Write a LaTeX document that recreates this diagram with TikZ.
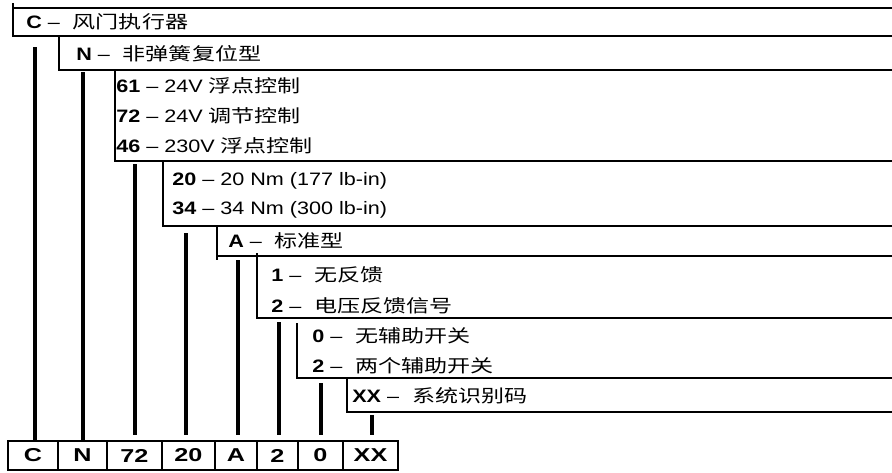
\documentclass[tikz,border=0pt]{standalone}
\usepackage{fontspec}
\setmainfont{Liberation Sans}[FakeStretch=1.2]
\newfontfamily\cjk{Noto Sans CJK SC}[FakeStretch=1.3]
\newfontfamily\cellfont{Liberation Sans}[FakeStretch=1.35]
\newcommand{\zh}[1]{{\cjk\fontsize{13.3}{16}\selectfont #1}}

\newlength{\du}
\setlength{\du}{0.75pt}

\tikzset{
  optframe/.style={line width=2\du},
  codeline/.style={line width=3.2\du},
  optlabel/.style={anchor=west, inner sep=0pt, font=\fontsize{13.5}{16}\selectfont},
  codecell/.style={draw, line width=2.5\du, minimum height=29\du, inner sep=0pt,
    font=\cellfont\fontsize{14}{16}\selectfont\bfseries},
}

\begin{document}
\begin{tikzpicture}
\pgftransformxscale{1.000000}
\pgftransformyscale{-1.000000}
\definecolor{dialinecolor}{rgb}{0.000000, 0.000000, 0.000000}
\pgfsetstrokecolor{dialinecolor}
\useasboundingbox (0\du,0\du) rectangle (892\du,472\du);
% option frames
\draw[line width=2.5\du] (13\du,8\du)--(892\du,8\du);
\draw[optframe] (13\du,3\du)--(13\du,36\du)--(892\du,36\du);
\draw[optframe] (59\du,37\du)--(59\du,70\du)--(892\du,70\du);
\draw[optframe] (115\du,70\du)--(115\du,161\du)--(892\du,161\du);
\draw[optframe] (163\du,161\du)--(163\du,226\du)--(892\du,226\du);
\draw[optframe] (217\du,226\du)--(217\du,260\du);
\draw[optframe] (217\du,256\du)--(892\du,256\du);
\draw[optframe] (257\du,253\du)--(257\du,318\du)--(892\du,318\du);
\draw[optframe] (297\du,323\du)--(297\du,378\du)--(892\du,378\du);
\draw[optframe] (347\du,378\du)--(347\du,412\du)--(892\du,412\du);
% option texts
\node[optlabel] (typeC) at (26\du,22\du){\textbf{C} --\hspace{13\du}\zh{风门执行器}};
\node[optlabel] (typeN) at (76\du,54\du){\textbf{N} --\hspace{13\du}\zh{非弹簧复位型}};
\node[optlabel] (volt61) at (116\du,86\du){\textbf{61} -- 24V \zh{浮点控制}};
\node[optlabel] (volt72) at (116\du,116\du){\textbf{72} -- 24V \zh{调节控制}};
\node[optlabel] (volt46) at (116\du,146\du){\textbf{46} -- 230V \zh{浮点控制}};
\node[optlabel] (torq20) at (172\du,181\du){\textbf{20} -- 20 Nm (177 lb-in)};
\node[optlabel] (torq34) at (172\du,210\du){\textbf{34} -- 34 Nm (300 lb-in)};
\node[optlabel] (modA) at (228\du,241\du){\textbf{A} --\hspace{13\du}\zh{标准型}};
\node[optlabel] (fb1) at (271\du,275\du){\textbf{1} --\hspace{13\du}\zh{无反馈}};
\node[optlabel] (fb2) at (271\du,306\du){\textbf{2} --\hspace{13\du}\zh{电压反馈信号}};
\node[optlabel] (aux0) at (312\du,336\du){\textbf{0} --\hspace{13\du}\zh{无辅助开关}};
\node[optlabel] (aux2) at (312\du,366\du){\textbf{2} --\hspace{13\du}\zh{两个辅助开关}};
\node[optlabel] (sysXX) at (352\du,396\du){\textbf{XX} --\hspace{13\du}\zh{系统识别码}};
% code cells
\node[codecell, minimum width=50\du] (cellC) at (33\du,455.5\du){C};
\node[codecell, minimum width=49\du] (cellN) at (82.5\du,455.5\du){N};
\node[codecell, minimum width=55\du] (cell72) at (134.5\du,455.5\du){72};
\node[codecell, minimum width=53\du] (cell20) at (188.5\du,455.5\du){20};
\node[codecell, minimum width=42\du] (cellA) at (236\du,455.5\du){A};
\node[codecell, minimum width=41\du] (cell2) at (277.5\du,455.5\du){2};
\node[codecell, minimum width=45\du] (cell0) at (320.5\du,455.5\du){0};
\node[codecell, minimum width=55\du] (cellXX) at (370.5\du,455.5\du){XX};
% connectors
\coordinate (vC) at (35\du,47\du);
\coordinate (vN) at (83\du,72\du);
\coordinate (v72) at (135\du,164\du);
\coordinate (e72) at (135\du,435\du);
\coordinate (v20) at (186\du,233\du);
\coordinate (e20) at (186\du,435\du);
\coordinate (vA) at (238\du,260\du);
\coordinate (eA) at (238\du,435\du);
\coordinate (v2) at (279\du,322\du);
\coordinate (e2) at (279\du,435\du);
\coordinate (v0) at (321\du,383\du);
\coordinate (e0) at (321\du,435\du);
\coordinate (vXX) at (372\du,415\du);
\coordinate (eXX) at (372\du,435\du);
\draw[codeline] (vC)--(vC |- cellC.north);
\draw[codeline] (vN)--(vN |- cellN.north);
\draw[codeline] (v72)--(e72);
\draw[codeline] (v20)--(e20);
\draw[codeline] (vA)--(eA);
\draw[codeline] (v2)--(e2);
\draw[codeline] (v0)--(e0);
\draw[codeline] (vXX)--(eXX);
\end{tikzpicture}
\end{document}
